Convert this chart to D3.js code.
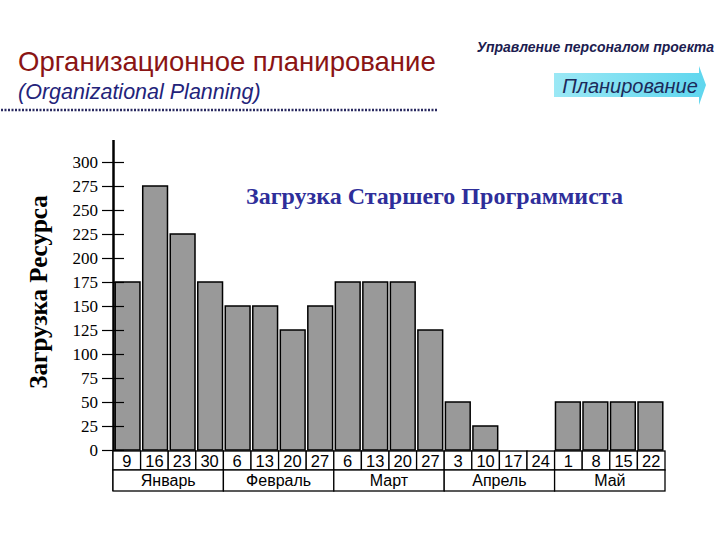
<!DOCTYPE html>
<html>
<head>
<meta charset="utf-8">
<script src="https://d3js.org/d3.v7.min.js"></script>
<style>
  body { margin: 0; background: #fff; }
</style>
</head>
<body>
<div id="chart"></div>
<script>
  const w = 720, h = 540

  // data
  const weeks = ["9","16","23","30","6","13","20","27","6","13","20","27","3","10","17","24","1","8","15","22"]
  const load = [175,275,225,175,150,150,125,150,175,175,175,125,50,25,0,0,50,50,50,50]
  const months = ["Январь","Февраль","Март","Апрель","Май"]
  const yTicks = [0,25,50,75,100,125,150,175,200,225,250,275,300]

  const svg = d3.select("#chart").append("svg")
    .attr("width", w).attr("height", h)

  // header
  svg.append("text")
    .attr("x", 18).attr("y", 71)
    .attr("font-family", "Liberation Sans, Arial, sans-serif")
    .attr("font-size", 27.5)
    .attr("fill", "#8a1414")
    .text("Организационное планирование")
  svg.append("text")
    .attr("x", 18).attr("y", 99)
    .attr("font-family", "Liberation Sans, Arial, sans-serif")
    .attr("font-style", "italic")
    .attr("font-size", 21.5)
    .attr("fill", "#23237a")
    .text("(Organizational Planning)")
  svg.append("line")
    .attr("x1", 1).attr("x2", 437).attr("y1", 110).attr("y2", 110)
    .attr("stroke", "#2a2a60").attr("stroke-width", 2.5)
    .attr("stroke-dasharray", "2,1.5")

  svg.append("text")
    .attr("x", 714).attr("y", 52)
    .attr("text-anchor", "end")
    .attr("font-family", "Liberation Sans, Arial, sans-serif")
    .attr("font-style", "italic").attr("font-weight", "bold")
    .attr("font-size", 14)
    .attr("fill", "#1c1c50")
    .text("Управление персоналом проекта")

  const grad = svg.append("defs").append("linearGradient")
    .attr("id", "cyan").attr("x1", 0).attr("x2", 1)
  grad.append("stop").attr("offset", 0).attr("stop-color", "#9be8f5")
  grad.append("stop").attr("offset", 1).attr("stop-color", "#5fd6ee")
  svg.append("path")
    .attr("d", "M554,73 L699,73 L699,66 L706,85 L699,105 L699,97 L554,97 Z")
    .attr("fill", "url(#cyan)")
  svg.append("text")
    .attr("x", 630).attr("y", 93)
    .attr("text-anchor", "middle")
    .attr("font-family", "Liberation Sans, Arial, sans-serif")
    .attr("font-style", "italic")
    .attr("font-size", 20)
    .attr("fill", "#1c2a5a")
    .text("Планирование")

  // scales
  const x = d3.scaleBand().domain(d3.range(weeks.length)).range([113, 665]).paddingInner(0.1).paddingOuter(0.08)
  const y = d3.scaleLinear().domain([0, 300]).range([450, 162])

  // bars
  svg.append("g").selectAll("rect")
    .data(load)
    .join("rect")
      .attr("x", (d, i) => x(i))
      .attr("y", d => y(d))
      .attr("width", x.bandwidth())
      .attr("height", d => y(0) - y(d))
      .attr("fill", d => d > 0 ? "#999999" : "none")
      .attr("stroke", d => d > 0 ? "#000" : "none")
      .attr("stroke-width", 1.5)

  // y axis
  const yAxis = svg.append("g")
    .attr("transform", "translate(124,0)")
    .call(d3.axisLeft(y).tickValues(yTicks).tickSize(22).tickPadding(4))
  yAxis.select(".domain").remove()
  yAxis.selectAll("line").attr("stroke", "#000").attr("stroke-width", 1.2)
  yAxis.selectAll("text")
    .style("font-family", "'Liberation Serif', 'Times New Roman', serif")
    .style("font-size", "17px")
    .attr("fill", "#000")

  svg.append("line")
    .attr("x1", 113.5).attr("x2", 113.5).attr("y1", 140).attr("y2", 491)
    .attr("stroke", "#000").attr("stroke-width", 2.5)

  // date rows
  const xw = d3.scaleLinear().domain([0, weeks.length]).range([113, 665])
  const dates = svg.append("g")
  dates.selectAll("rect")
    .data(weeks)
    .join("rect")
      .attr("x", (d, i) => xw(i)).attr("y", 451)
      .attr("width", xw(1) - xw(0)).attr("height", 19)
      .attr("fill", "#fff").attr("stroke", "#000").attr("stroke-width", 1.3)
  dates.selectAll("text")
    .data(weeks)
    .join("text")
      .attr("x", (d, i) => xw(i + 0.5)).attr("y", 467)
      .attr("text-anchor", "middle")
      .attr("font-family", "Liberation Sans, Arial, sans-serif")
      .attr("font-size", 16.5)
      .text(d => d)

  const mon = svg.append("g")
  mon.selectAll("rect")
    .data(months)
    .join("rect")
      .attr("x", (d, i) => xw(i * 4)).attr("y", 470)
      .attr("width", xw(4) - xw(0)).attr("height", 21)
      .attr("fill", "#fff").attr("stroke", "#000").attr("stroke-width", 1.3)
  mon.selectAll("text")
    .data(months)
    .join("text")
      .attr("x", (d, i) => xw(i * 4 + 2)).attr("y", 486)
      .attr("text-anchor", "middle")
      .attr("font-family", "Liberation Sans, Arial, sans-serif")
      .attr("font-size", 16)
      .text(d => d)

  // titles
  svg.append("text")
    .attr("x", 246).attr("y", 204)
    .attr("font-family", "Liberation Serif, Times New Roman, serif")
    .attr("font-weight", "bold")
    .attr("font-size", 24)
    .attr("fill", "#2e2e9a")
    .text("Загрузка Старшего Программиста")

  svg.append("text")
    .attr("transform", "translate(47,292) rotate(-90)")
    .attr("text-anchor", "middle")
    .attr("font-family", "Liberation Serif, Times New Roman, serif")
    .attr("font-weight", "bold")
    .attr("font-size", 25)
    .attr("fill", "#000")
    .text("Загрузка Ресурса")
</script>
</body>
</html>
